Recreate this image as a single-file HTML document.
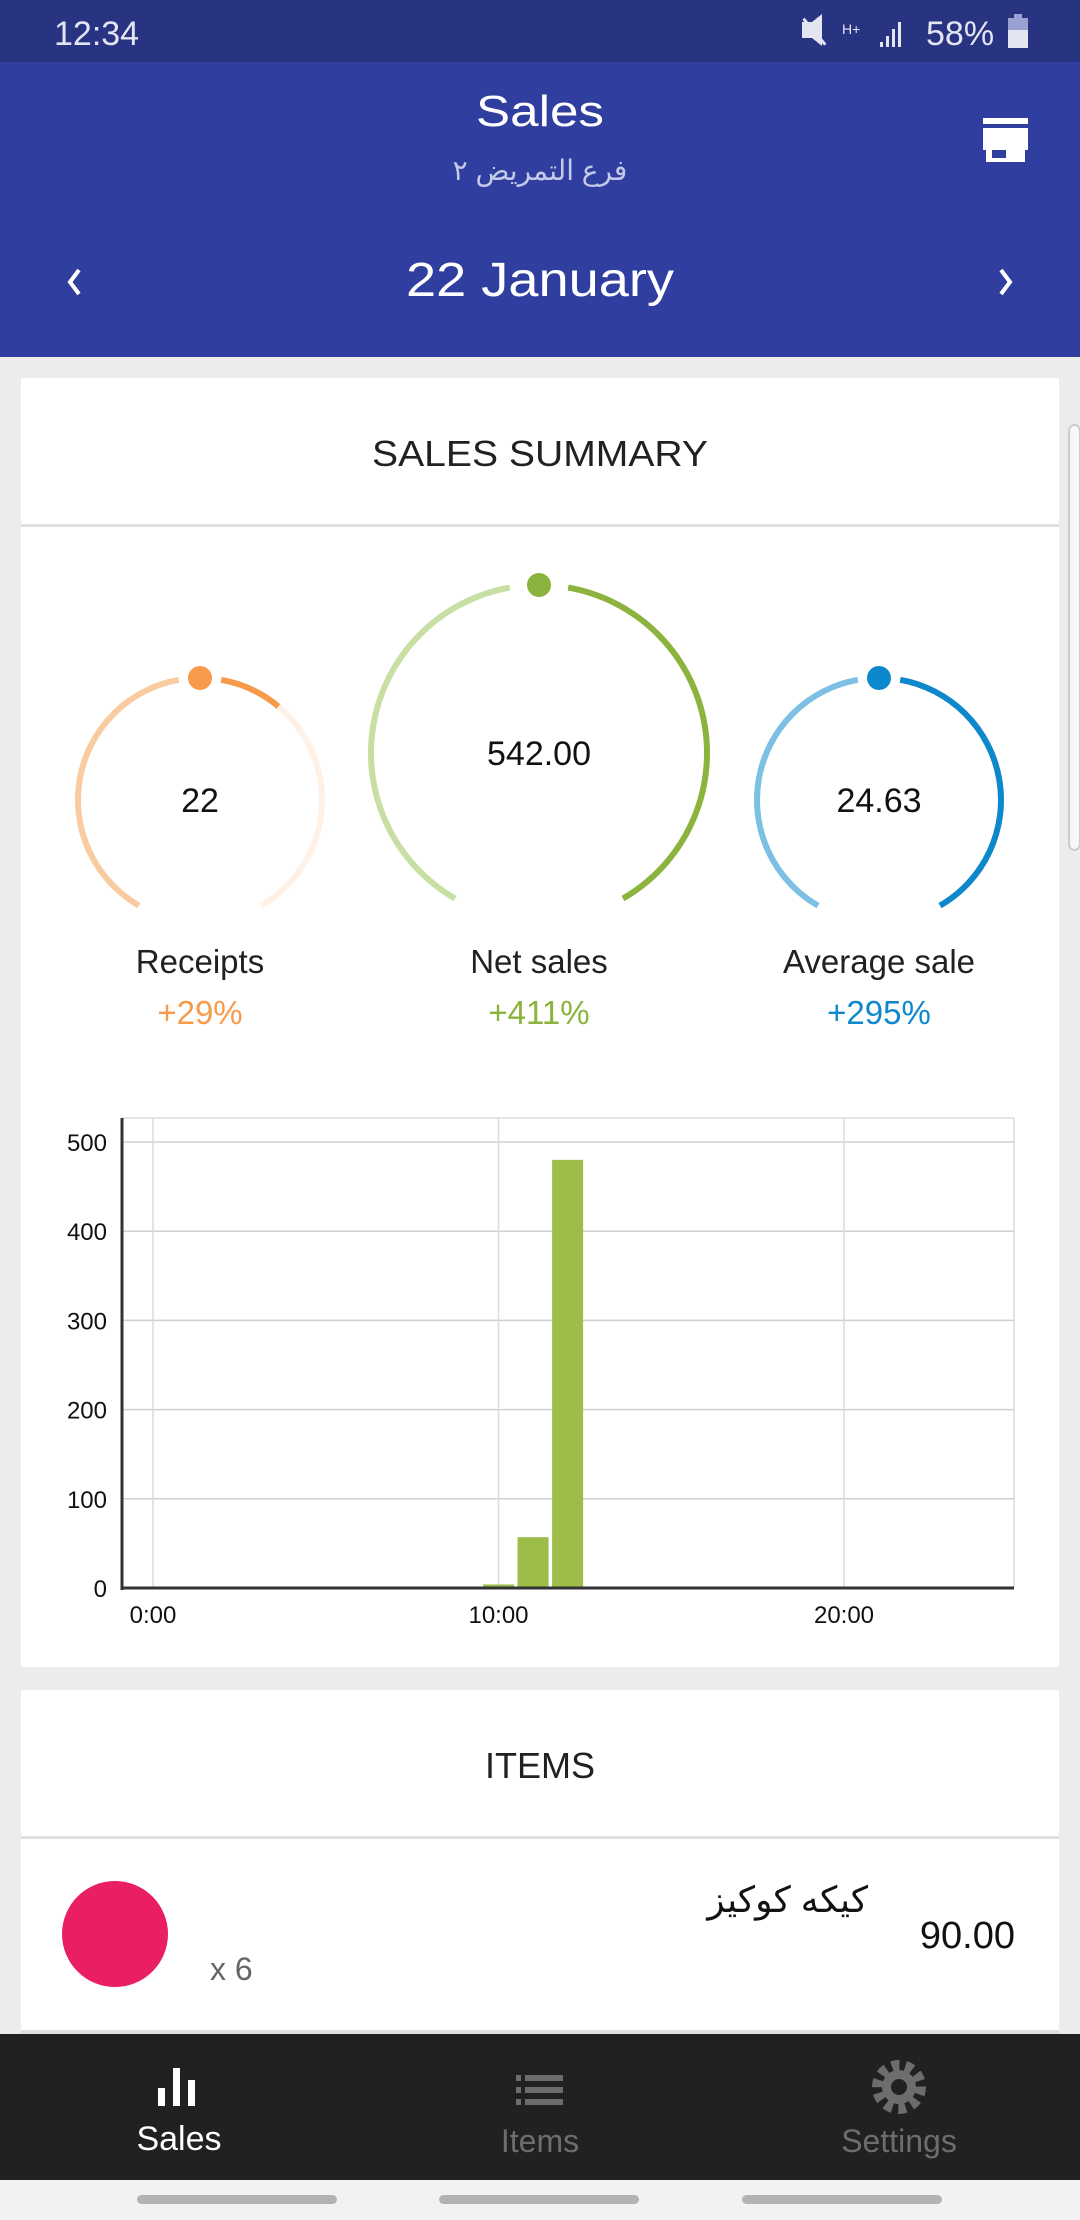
<!DOCTYPE html>
<html><head><meta charset="utf-8"><style>
html,body{margin:0;padding:0;width:1080px;height:2220px;overflow:hidden;background:#ececec;font-family:"Liberation Sans","DejaVu Sans",sans-serif}
svg{display:block}
text{font-family:"Liberation Sans","DejaVu Sans",sans-serif}
</style></head><body>
<svg id="page" width="1080" height="2220" viewBox="0 0 1080 2220">
  <rect x="0" y="0" width="1080" height="2220" fill="#ececec"/>
  <rect x="0" y="0" width="1080" height="62" fill="#283382"/>
  <text x="54" y="45" font-size="34" fill="#e3e5f3">12:34</text>
  <text x="926" y="45" font-size="34" fill="#e3e5f3">58%</text>
  <g fill="#e3e5f3">
    <path d="M802 22 l10 0 10 -8 0 32 -10 -8 -10 0z"/><rect x="813" y="15" width="3" height="34" transform="rotate(-40 814 32)"/>
    <text x="842" y="34" font-size="14" fill="#e3e5f3">H+</text>
    <rect x="880" y="42" width="3" height="5"/><rect x="886" y="36" width="3" height="11"/><rect x="892" y="29" width="3" height="18"/><rect x="898" y="22" width="3" height="25"/>
    <rect x="1008" y="18" width="20" height="30" fill="#9aa0d0"/><rect x="1008" y="30" width="20" height="18"/><rect x="1014" y="14" width="8" height="4" fill="#9aa0d0"/>
  </g>
  <rect x="0" y="62" width="1080" height="295" fill="#303f9f"/>
  <text x="540" y="126" font-size="44" fill="#fff" text-anchor="middle" textLength="128" lengthAdjust="spacingAndGlyphs">Sales</text>
  <text x="540" y="180" font-size="28" fill="#c5cae9" text-anchor="middle" direction="rtl">فرع التمريض ٢</text>
  <g fill="#fff">
    <rect x="983" y="118" width="45" height="6"/>
    <path d="M983 128 h45 v22 h-45z"/>
    <rect x="986" y="150" width="39" height="12"/>
    <rect x="992" y="150" width="14" height="8" fill="#303f9f"/>
  </g>
  <path d="M79 270 L70 282 L79 294" stroke="#fff" stroke-width="4" fill="none"/>
  <text x="540" y="296" font-size="48" fill="#fff" text-anchor="middle" textLength="268" lengthAdjust="spacingAndGlyphs">22  January</text>
  <path d="M1001 270 L1010 282 L1001 294" stroke="#fff" stroke-width="4" fill="none"/>

  <rect x="21" y="378" width="1038" height="1289" fill="#fff"/>
  <text x="540" y="466" font-size="36" fill="#212121" text-anchor="middle" textLength="336" lengthAdjust="spacingAndGlyphs">SALES SUMMARY</text>
  <rect x="21" y="524" width="1038" height="3" fill="#e0e0e0"/>
  <rect x="1069" y="425" width="11" height="425" rx="6" fill="#f7f7f7" stroke="#ccc" stroke-width="2"/>

  <g id="gauges"></g>

  <text x="200" y="973" font-size="33" fill="#212121" text-anchor="middle">Receipts</text>
  <text x="200" y="1024" font-size="33" fill="#f79b4b" text-anchor="middle">+29%</text>
  <text x="539" y="973" font-size="33" fill="#212121" text-anchor="middle">Net sales</text>
  <text x="539" y="1024" font-size="33" fill="#8bb33d" text-anchor="middle">+411%</text>
  <text x="879" y="973" font-size="33" fill="#212121" text-anchor="middle">Average sale</text>
  <text x="879" y="1024" font-size="33" fill="#0d88cc" text-anchor="middle">+295%</text>
  <text x="200" y="812" font-size="34" fill="#111" text-anchor="middle">22</text>
  <text x="539" y="765" font-size="34" fill="#111" text-anchor="middle">542.00</text>
  <text x="879" y="812" font-size="34" fill="#111" text-anchor="middle">24.63</text>

  <g id="chart"></g>

  <rect x="21" y="1690" width="1038" height="360" fill="#fff"/>
  <text x="540" y="1778" font-size="36" fill="#212121" text-anchor="middle">ITEMS</text>
  <rect x="21" y="1836" width="1038" height="3" fill="#e0e0e0"/>
  <g>
    <circle cx="115" cy="1934" r="53" fill="#e91e63"/>
    <text x="210" y="1980" font-size="32" fill="#666">x 6</text>
    <text x="868" y="1912" font-size="36" fill="#111" text-anchor="start" direction="rtl">كيكه كوكيز</text>
    <text x="1015" y="1948" font-size="38" fill="#111" text-anchor="end">90.00</text>
  </g>
  <rect x="21" y="2030" width="1038" height="4" fill="#e0e0e0"/>

  <rect x="0" y="2034" width="1080" height="146" fill="#212121"/>
  <g>
    <rect x="158" y="2088" width="7" height="18" fill="#fff"/><rect x="173" y="2068" width="7" height="38" fill="#fff"/><rect x="188" y="2080" width="7" height="26" fill="#fff"/>
    <text x="179" y="2150" font-size="34" fill="#fff" text-anchor="middle">Sales</text>
  </g>
  <g fill="#6d6d6d">
    <rect x="516" y="2075" width="5" height="6"/><rect x="525" y="2075" width="38" height="6"/>
    <rect x="516" y="2087" width="5" height="6"/><rect x="525" y="2087" width="38" height="6"/>
    <rect x="516" y="2099" width="5" height="6"/><rect x="525" y="2099" width="38" height="6"/>
    <text x="540" y="2152" font-size="32" fill="#6d6d6d" text-anchor="middle">Items</text>
  </g>
  <g>
    <circle cx="899" cy="2087" r="20" fill="none" stroke="#6d6d6d" stroke-width="14" stroke-dasharray="7 5.5"/>
    <circle cx="899" cy="2087" r="17" fill="#6d6d6d"/>
    <circle cx="899" cy="2087" r="8" fill="#212121"/>
    <text x="899" y="2152" font-size="32" fill="#6d6d6d" text-anchor="middle">Settings</text>
  </g>
  <rect x="0" y="2180" width="1080" height="40" fill="#f2f2f2"/>
  <rect x="137" y="2195" width="200" height="9" rx="4.5" fill="#b3b3b3"/>
  <rect x="439" y="2195" width="200" height="9" rx="4.5" fill="#b3b3b3"/>
  <rect x="742" y="2195" width="200" height="9" rx="4.5" fill="#b3b3b3"/>
</svg>
<script>
var NS="http://www.w3.org/2000/svg";
var barHours=[10,11,12];
var barValues=[4,57,480];
var yTicks=[0,100,200,300,400,500];
var xTicks=[0,10,20];
var xTickLabels=["0:00","10:00","20:00"];

function mk(tag,attrs,parent){var e=document.createElementNS(NS,tag);for(var k in attrs)e.setAttribute(k,attrs[k]);parent.appendChild(e);return e;}

function pt(cx,cy,r,d){var a=d*Math.PI/180;return [cx+r*Math.sin(a),cy-r*Math.cos(a)];}
function arc(cx,cy,r,a0,a1,color,g){var p0=pt(cx,cy,r,a0),p1=pt(cx,cy,r,a1);var large=(a1-a0)>180?1:0;
  var e=mk('path',{d:'M'+p0[0]+' '+p0[1]+' A'+r+' '+r+' 0 '+large+' 1 '+p1[0]+' '+p1[1],fill:'none',stroke:color,'stroke-width':6},g);
  
  }
var G=document.getElementById('gauges');
function gauge(name,cx,cy,r,light,dark,darkEnd,pale){
  var g=mk('g',{},G);
  
  
  arc(cx,cy,r,-150,-10,light,g);
  arc(cx,cy,r,10,darkEnd,dark,g);
  if(darkEnd<150)arc(cx,cy,r,darkEnd,150,pale,g);
  var d=mk('circle',{cx:cx,cy:cy-r,r:12,fill:dark},g);
  
  
}
gauge('receipts-gauge',200,800,122,'#f9cba0','#f79b4b',40,'#fff1e6');
gauge('net-sales-gauge',539,753,168,'#c8dfa3','#8bb33d',150,'');
gauge('average-sale-gauge',879,800,122,'#7cc0e4','#0d88cc',150,'');

var C=document.getElementById('chart');
var plotLeft=122,plotRight=1014,plotTop=1118,plotBase=1588,x0=153,hourPx=34.55,yMaxVal=500,yMaxPx=1142;
function X(h){return x0+h*hourPx;}
function Y(v){return plotBase-(v/yMaxVal)*(plotBase-yMaxPx);}
mk('line',{x1:plotLeft,y1:plotTop,x2:plotRight,y2:plotTop,stroke:'#dcdcdc','stroke-width':1.5},C);
mk('line',{x1:plotRight,y1:plotTop,x2:plotRight,y2:plotBase,stroke:'#dcdcdc','stroke-width':1.5},C);
yTicks.forEach(function(v){
  var l=mk('line',{x1:plotLeft,y1:Y(v),x2:plotRight,y2:Y(v),stroke:'#cfcfcf','stroke-width':1.5},C);
  
  
  var t=mk('text',{x:107,y:Y(v)+9,'font-size':24,'text-anchor':'end',fill:'#111'},C);
  t.textContent=v;
  
  
});
xTicks.forEach(function(h,i){
  var l=mk('line',{x1:X(h),y1:plotTop,x2:X(h),y2:plotBase,stroke:'#dcdcdc','stroke-width':1.5},C);
  
  
  var t=mk('text',{x:X(h),y:1623,'font-size':24,'text-anchor':'middle',fill:'#111'},C);
  t.textContent=xTickLabels[i];
  
  
});
barHours.forEach(function(h,i){
  var bw=31,v=barValues[i];
  var b=mk('rect',{x:X(h)-bw/2,y:Y(v),width:bw,height:plotBase-Y(v),fill:'#9cbd48'},C);
  
  
});
var ya=mk('line',{x1:plotLeft,y1:plotTop,x2:plotLeft,y2:plotBase+2,stroke:'#333','stroke-width':3},C);


var xa=mk('line',{x1:plotLeft,y1:plotBase,x2:plotRight,y2:plotBase,stroke:'#333','stroke-width':3},C);


</script>
</body></html>
